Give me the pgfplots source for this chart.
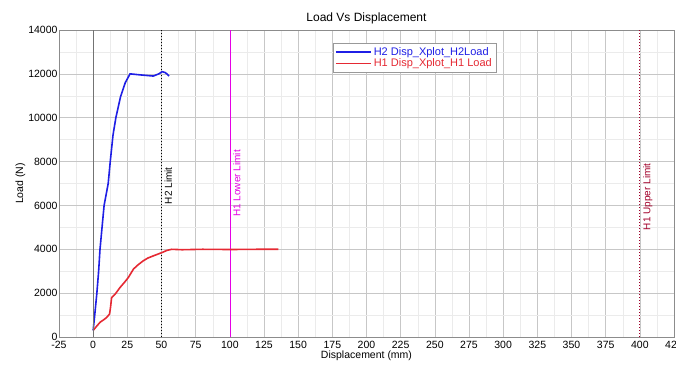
\documentclass[border=0pt]{standalone}
\usepackage{pgfplots}
\pgfplotsset{compat=1.18}
\usepackage{fontspec}
\setmainfont{Liberation Sans}
\definecolor{hblue}{rgb}{0.12,0.12,0.9}
\definecolor{hred}{rgb}{0.9,0.16,0.2}
\definecolor{hmag}{rgb}{0.9,0,0.9}
\definecolor{hdred}{rgb}{0.63,0,0.16}
\begin{document}
\begin{tikzpicture}
\path[use as bounding box] (-59pt,-31pt) rectangle (617pt,337pt);
\begin{axis}[
  at={(0pt,0pt)}, anchor=south west,
  scale only axis, width=615pt, height=307pt,
  xmin=-25, xmax=425, ymin=0, ymax=14000,
  xtick={-25,0,...,425}, ytick={0,2000,...,14000},
  scaled y ticks=false, scaled x ticks=false,
  minor tick num=1,
  grid=both,
  major grid style={draw=black!22, line width=0.6pt},
  minor grid style={draw=black!8, line width=0.5pt},
  axis line style={draw=black!45},
  major tick length=0pt, minor tick length=0pt,
  /pgf/number format/1000 sep={},
  /pgf/number format/assume math mode=true,
  ticklabel style={font=\fontsize{10.5}{12}\selectfont},
  xticklabel style={yshift=-1pt},
  yticklabel style={xshift=2pt},
  label style={font=\fontsize{10.5}{12}\selectfont},
  xlabel={Displacement (mm)},
  ylabel={Load (N)},
  xlabel style={yshift=5pt},
  ylabel style={yshift=-4pt},
  title={Load Vs Displacement},
  title style={font=\fontsize{12}{14}\selectfont, yshift=-4pt},
  legend style={at={(0.4455,0.958)}, anchor=north west, draw=black!40,
    font=\fontsize{11}{13}\selectfont, row sep=-2pt, inner sep=2pt},
  legend cell align=left,
  legend image code/.code={\draw[#1] (0pt,0pt) -- (35pt,0pt);},
]
\addplot[draw=hmag, line width=0.6pt, forget plot] coordinates {(100,0)(100,14000)};
\addplot[draw=black, dotted, line width=1pt, forget plot] coordinates {(50,0)(50,14000)};
\addplot[draw=hdred, dotted, line width=1pt, forget plot] coordinates {(400,0)(400,14000)};
\addplot[draw=hblue, line width=1.6pt] coordinates {
(0,300)(1.3,1100)(2.7,2000)(4,3000)(5,4000)(6.5,5000)(8,6000)(11,7000)(12.5,8000)(14.5,9200)(16.6,10000)(20,10950)(23.5,11600)(27,12000)(35,11950)(44,11900)(48,12000)(50.5,12100)(53,12050)(55.5,11900)
};
\addlegendentry[text=hblue]{H2 Disp\_Xplot\_H2Load}
\addplot[draw=hred, line width=1.6pt] coordinates {
(0,300)(2,450)(5,670)(8,800)(10,900)(12,1050)(12.8,1400)(13.5,1800)(16,1950)(19.7,2260)(23,2500)(25.8,2720)(29.5,3100)(33,3300)(36.8,3480)(40,3600)(44,3700)(50.7,3860)(54,3950)(57.5,4000)(65,3980)(80,4000)(100,3990)(120,4000)(135.5,4000)
};
\addlegendentry[text=hred]{H1 Disp\_Xplot\_H1 Load}
\addplot[draw=black!55, line width=0.9pt, forget plot] coordinates {(0,0)(0,14000)};
\node[rotate=90, anchor=north, inner sep=3pt, font=\fontsize{10}{12}\selectfont, text=black] at (axis cs:50,6900) {H2 Limit};
\node[rotate=90, anchor=north, inner sep=3pt, font=\fontsize{10}{12}\selectfont, text=hmag] at (axis cs:100,7000) {H1 Lower Limit};
\node[rotate=90, anchor=north, inner sep=3pt, font=\fontsize{10}{12}\selectfont, text=hdred] at (axis cs:400,6400) {H1 Upper Limit};
\end{axis}
\end{tikzpicture}
\end{document}
